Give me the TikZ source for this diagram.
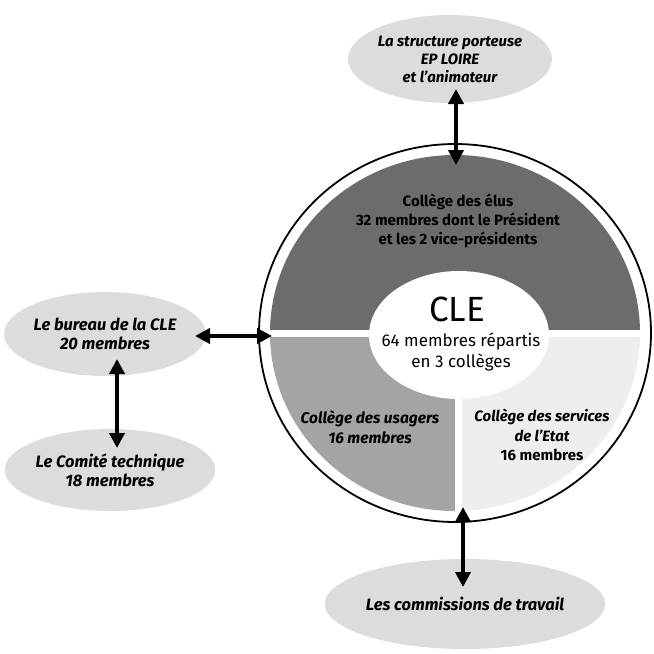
\documentclass[tikz,border=0pt]{standalone}
\usepackage{fontspec}
\setmainfont{Fira Sans}
\usetikzlibrary{shapes.geometric,arrows.meta}
\definecolor{bubblegray}{HTML}{DCDCDC}
\definecolor{darksector}{HTML}{6C6C6C}
\definecolor{midsector}{HTML}{A4A4A4}
\definecolor{lightsector}{HTML}{EEEEEE}
\begin{document}
\begin{tikzpicture}[x=1pt,y=-1pt,
  bubble/.style={ellipse, fill=bubblegray, inner sep=0pt, align=center,
    font=\bfseries\itshape\fontsize{15}{18}\selectfont},
  bigbubble/.style={bubble, font=\bfseries\itshape\fontsize{16.5}{18.5}\selectfont},
  sectortext/.style={align=center, font=\bfseries\itshape\fontsize{15.5}{19.5}\selectfont},
  dblarrow/.style={line width=4pt,
    {Triangle[length=15pt,width=15pt]}-{Triangle[length=15pt,width=15pt]}}]
\useasboundingbox (0,0) rectangle (654,654);
\fill[white] (0,0) rectangle (654,654);

% ring sectors
\begin{scope}
  \clip (455,333) ellipse [x radius=185, y radius=178];
  \fill[darksector] (250,120) rectangle (660,333);
  \fill[midsector] (250,333) rectangle (458,540);
  \fill[lightsector] (458,333) rectangle (660,540);
\end{scope}
\fill[white] (250,330) rectangle (660,337);
\fill[white] (455,335) rectangle (462,530);
\fill[white] (459,335) ellipse [x radius=90, y radius=64];
\node[draw, line width=1.8pt, ellipse, minimum width=392pt, minimum height=378pt,
  inner sep=0pt] (ring) at (455,333) {};

% texts in the ring
\node[align=center, font=\bfseries\fontsize{15}{19}\selectfont] (elus) at (458,221)
  {Collège des élus\\32 membres dont le Président\\et les 2 vice-présidents};
\node[font=\fontsize{35}{40}\selectfont] (cle) at (457,309) {CLE};
\node[align=center, font=\fontsize{17}{20.5}\selectfont] (clesub) at (461,352)
  {64 membres répartis\\en 3 collèges};
\node[sectortext] (usagers) at (370,427) {Collège des usagers\\16 membres};
\node[align=center, font=\fontsize{15}{19.5}\selectfont] (services) at (542,435)
  {\bfseries\itshape Collège des services\\\bfseries\itshape de l'Etat\\\bfseries 16 membres};

% outer bubbles
\node[bubble, minimum width=190pt, minimum height=88pt] (porteuse) at (450,59)
  {La structure porteuse\\EP LOIRE\\et l'animateur};
\node[bigbubble, minimum width=190pt, minimum height=84pt] (bureau) at (105,334)
  {Le bureau de la CLE\\20 membres};
\node[bigbubble, minimum width=190pt, minimum height=82pt] (comite) at (110,470)
  {Le Comité technique\\18 membres};
\node[bigbubble, minimum width=215pt, minimum height=90pt] (commissions) at (465,604)
  {Les commissions de travail};

% arrow end points
\coordinate (pA) at (456,89);
\coordinate (pB) at (456,165);
\coordinate (bA) at (195,336);
\coordinate (bB) at (272,336);
\coordinate (cA) at (117,359);
\coordinate (cB) at (117,448);
\coordinate (dA) at (463,507);
\coordinate (dB) at (463,587);

\draw[dblarrow] (pA) -- (pB);
\draw[dblarrow] (bA) -- (bB);
\draw[dblarrow] (cA) -- (cB);
\draw[dblarrow] (dA) -- (dB);
\end{tikzpicture}
\end{document}
